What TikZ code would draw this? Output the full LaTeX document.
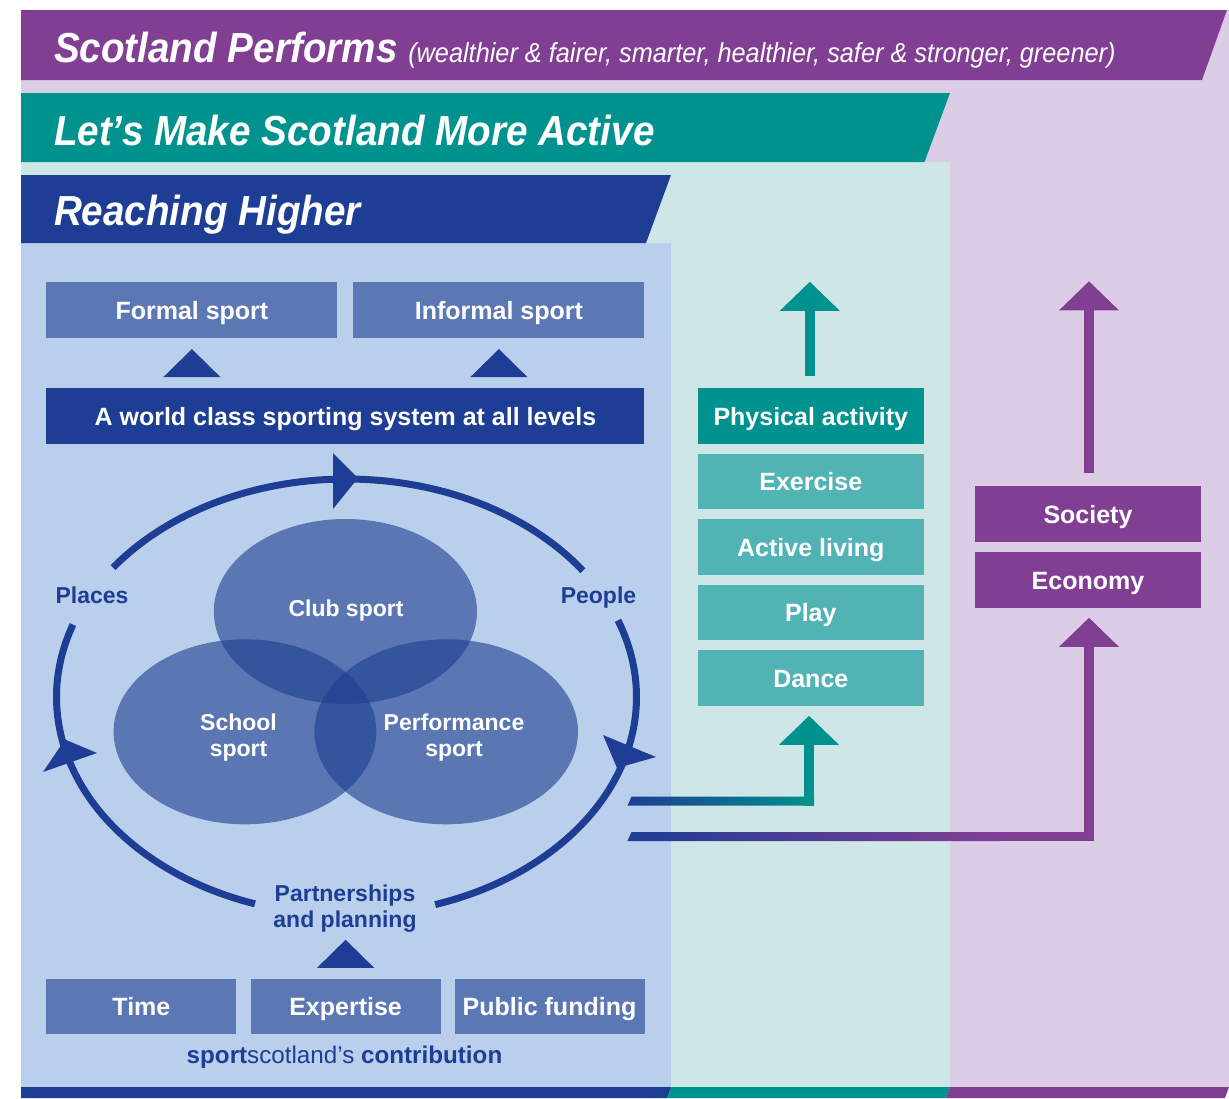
\documentclass[tikz,border=0pt]{standalone}
\usepackage{fontspec}
\setmainfont{Liberation Sans}
\newfontfamily\headfont[FakeStretch=0.92]{Liberation Sans}
\usetikzlibrary{arrows.meta,calc}

\definecolor{dblue}{HTML}{1E3D94}
\definecolor{mblue}{HTML}{5B78B5}
\definecolor{lblue}{HTML}{BACFEC}
\definecolor{dteal}{HTML}{00928E}
\definecolor{mteal}{HTML}{52B3B4}
\definecolor{lteal}{HTML}{CFE6E7}
\definecolor{dpurple}{HTML}{813F94}
\definecolor{lpurple}{HTML}{DCCDE6}
\definecolor{venn}{HTML}{1B3D90}

\begin{document}
\begin{tikzpicture}[x=1pt, y=-1pt,
  every node/.style={inner sep=0pt, outer sep=0pt},
  heading/.style={anchor=base west, text=white,
    font=\headfont\bfseries\itshape\fontsize{42}{48}\selectfont},
  tile/.style={rectangle, minimum height=55.5pt, text=white,
    font=\bfseries\fontsize{25}{30}\selectfont, text height=18pt, text depth=0pt},
  bluetile/.style={tile, fill=mblue, minimum width=#1},
  tealtile/.style={tile, fill=mteal, minimum width=225.5pt},
  purpletile/.style={tile, fill=dpurple, minimum width=226pt},
  venntext/.style={text=white, font=\bfseries\fontsize{23}{26}\selectfont},
  looplabel/.style={text=dblue, font=\bfseries\fontsize{23}{26}\selectfont},
  loopline/.style={draw=dblue, line width=7pt},
  bigarrow/.style={line width=10pt, -{Triangle[width=58pt,length=29pt]}}
]
\useasboundingbox (0,0) rectangle (1229,1098);

% column backgrounds
\fill[white] (0,0) rectangle (1229,1098);
\fill[lpurple] (21,10) rectangle (1229,1087);
\fill[lteal] (21,162) rectangle (950,1087);
\fill[lblue] (21,243) rectangle (671,1087);

% heading bands
\fill[dpurple] (21,10) -- (1227,10) -- (1202,80) -- (21,80) -- cycle;
\fill[dteal] (21,93) -- (950,93) -- (924.5,162) -- (21,162) -- cycle;
\fill[dblue] (21,175) -- (671,175) -- (646,243) -- (21,243) -- cycle;

% bottom strips
\fill[dblue] (21,1087) -- (671.5,1087) -- (667,1098) -- (21,1098) -- cycle;
\fill[dteal] (671.5,1087) -- (950,1087) -- (946,1098) -- (667,1098) -- cycle;
\fill[dpurple] (950,1087) -- (1229,1087) -- (1225,1098) -- (946,1098) -- cycle;

\node[heading] (perf) at (54,62.3) {Scotland Performs {\mdseries\fontsize{27.5}{30}\selectfont (wealthier \& fairer, smarter, healthier, safer \& stronger, greener)}};
\node[heading] (active) at (54,145.7) {Let’s Make Scotland More Active};
\node[heading] (reach) at (54,225) {Reaching Higher};

% sporting system boxes
\node[bluetile=291pt] (formal) at (191.9,310) {Formal sport};
\node[bluetile=291pt] (informal) at (498.9,310) {Informal sport};
\node[tile, fill=dblue, minimum width=598pt] (world) at (345.4,416) {A world class sporting system at all levels};
\fill[dblue] ($(formal.south)+(-28.5,39.3)$) -- ($(formal.south)+(0,11.3)$) -- ($(formal.south)+(28.5,39.3)$) -- cycle;
\fill[dblue] ($(informal.south)+(-28.5,39.3)$) -- ($(informal.south)+(0,11.3)$) -- ($(informal.south)+(28.5,39.3)$) -- cycle;

\node[bluetile=190pt] (time) at (141.4,1006.5) {Time};
\node[bluetile=190pt] (expertise) at (345.6,1006.5) {Expertise};
\node[bluetile=190pt] (funding) at (549.5,1006.5) {Public funding};
\fill[dblue] ($(expertise.north)+(-28.5,-11)$) -- ($(expertise.north)+(0,-39)$) -- ($(expertise.north)+(28.5,-11)$) -- cycle;

% three overlapping sport settings
\begin{scope}[fill=venn, fill opacity=0.6]
  \fill (345.4,611.5) ellipse [x radius=131.6pt, y radius=92.5pt];
  \fill (245,731.8) ellipse [x radius=131.4pt, y radius=92.5pt];
  \fill (446.2,731.8) ellipse [x radius=131.8pt, y radius=92.5pt];
\end{scope}
\node[venntext, anchor=base] (club) at (346,616) {Club sport};
\node[venntext, align=center] (school) at (238.5,738) {School\\sport};
\node[venntext, align=center] (perfsport) at (454,738) {Performance\\sport};

% the cycle around them
\draw[loopline] plot[domain=216.4:324.6, samples=90, smooth] ({346.5+290*cos(\x)},{697+218*sin(\x)});
\draw[loopline] plot[domain=-20.6:72.2, samples=70, smooth] ({346.5+290*cos(\x)},{697+218*sin(\x)});
\draw[loopline] plot[domain=108.4:199.4, samples=70, smooth] ({346.5+290*cos(\x)},{697+218*sin(\x)});
\fill[dblue] (333,453) -- (358,478) -- (333,509) -- cycle;
\fill[dblue] (43,772) -- (65,739.5) -- (97,753) -- cycle;
\fill[dblue] (603,735) -- (656,757) -- (617,768) -- cycle;

\node[looplabel, anchor=base] (places) at (92,603) {Places};
\node[looplabel, anchor=base] (people) at (598.5,603) {People};
\node[looplabel, align=center] (partner) at (345,909) {Partnerships\\and planning};
\node[looplabel, anchor=base, font=\bfseries\fontsize{24.2}{28}\selectfont] (contrib) at (344.5,1063) {sport{\mdseries scotland’s} contribution};

% activity column
\node[tile, fill=dteal, minimum width=225.5pt] (phys) at (810.8,416) {Physical activity};
\node[tealtile] (exercise) at (810.8,481.5) {Exercise};
\node[tealtile] (living) at (810.8,547) {Active living};
\node[tealtile] (play) at (810.8,612.5) {Play};
\node[tealtile] (dance) at (810.8,678) {Dance};

% outcomes column
\node[purpletile] (society) at (1088,514) {Society};
\node[purpletile] (economy) at (1088,580) {Economy};

% upward arrows
\draw[bigarrow, dteal] ($(phys.north)+(-1,-12.5)$) -- ++(0,-94);
\draw[bigarrow, dpurple] ($(society.north)+(1,-13)$) -- ++(0,-192);

% connectors from the cycle
\coordinate (tcorner) at (809,805.7);
\shade[left color=dblue, right color=dteal] (627.5,805.7) -- (631.5,796.7) -- (814,796.7) -- (814,805.7) -- cycle;
\draw[bigarrow, dteal, shorten >=10pt] (tcorner) -- (tcorner |- dance.south);

\coordinate (pcorner) at (1089,841);
\shade[left color=dblue, right color=dpurple] (627.5,841) -- (631.5,832) -- (1000,832) -- (1000,841) -- cycle;
\fill[dpurple] (999,832) rectangle (1094,841);
\draw[bigarrow, dpurple, shorten >=10pt] (pcorner) -- (pcorner |- economy.south);
\end{tikzpicture}
\end{document}
